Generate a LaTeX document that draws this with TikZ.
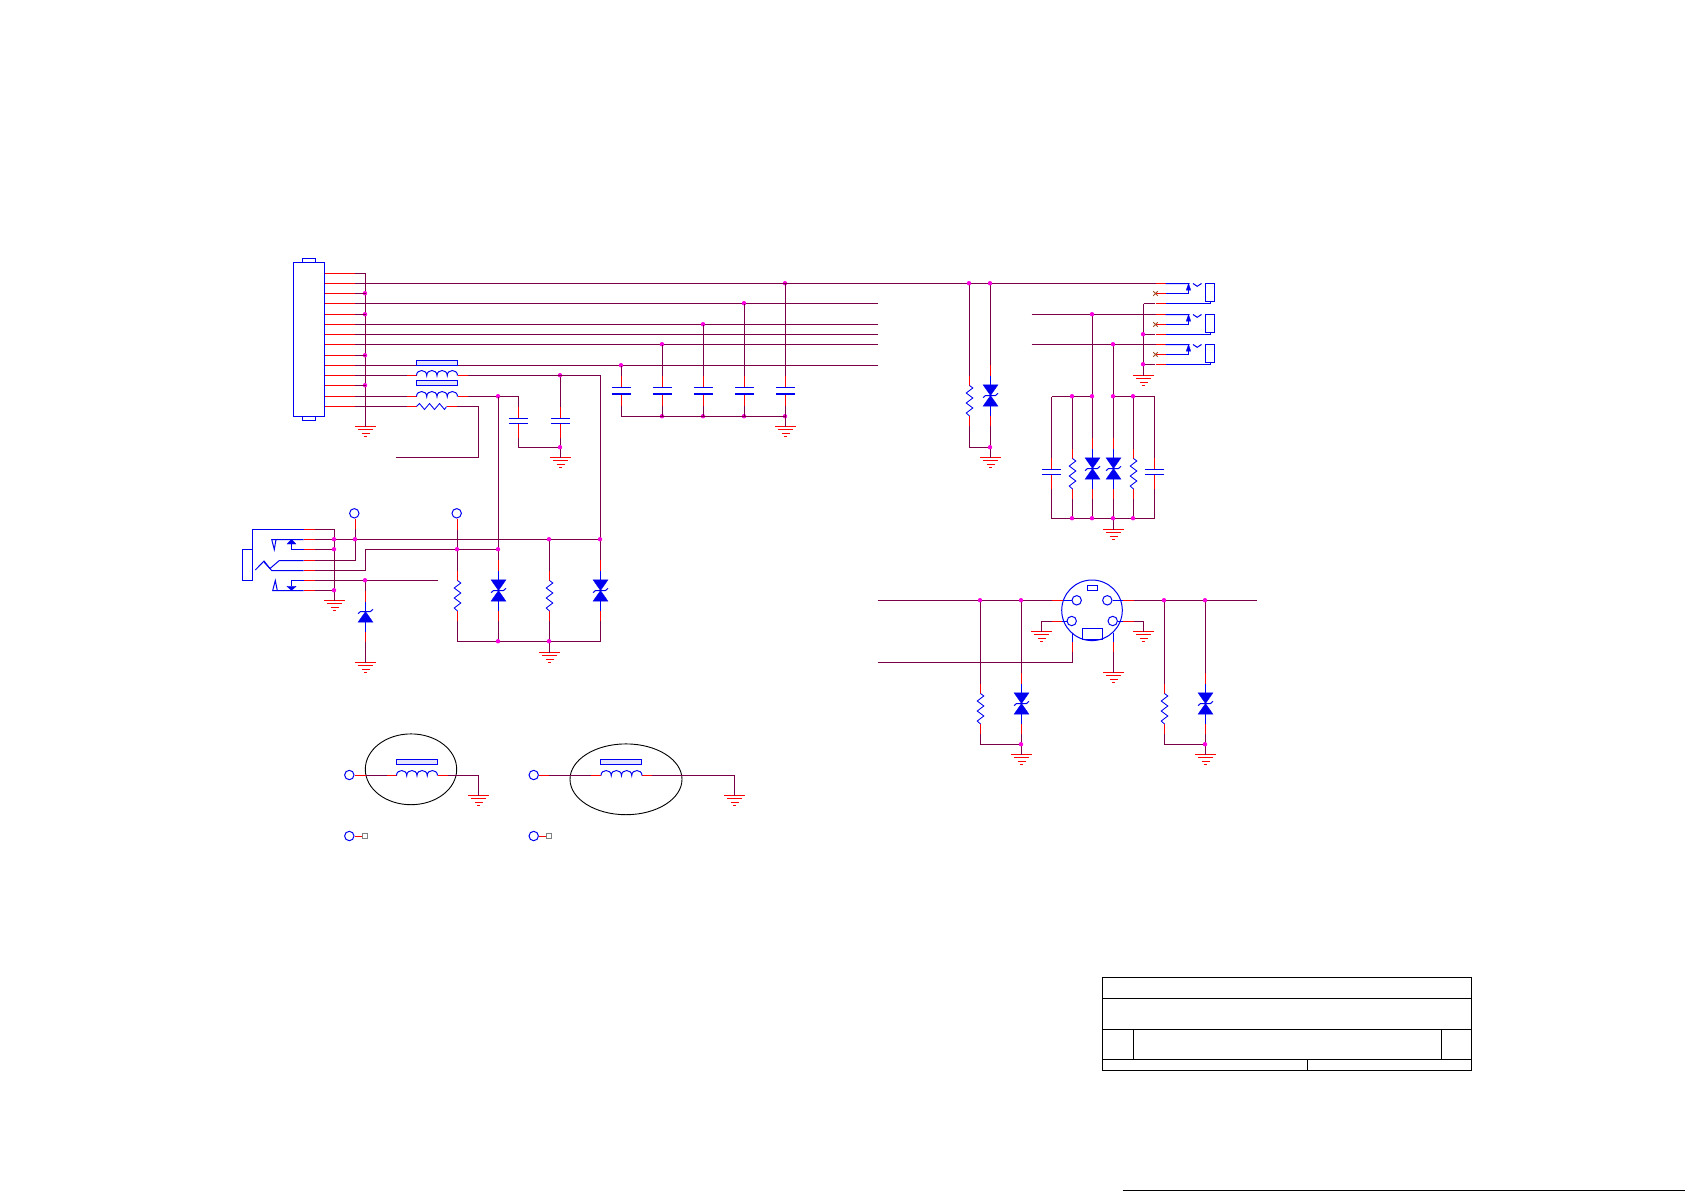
\documentclass[tikz,border=0pt]{standalone}
\definecolor{wirec}{HTML}{7B0045}
\definecolor{pinc}{HTML}{FF0000}
\definecolor{symc}{HTML}{0000F0}
\definecolor{dotc}{HTML}{FF00E0}
\definecolor{xc}{HTML}{A0522D}
\tikzset{
  wire/.style={draw=wirec,line width=1pt},
  lead/.style={draw=pinc,line width=1pt},
  sym/.style={draw=symc,line width=1pt},
  symf/.style={fill=symc,draw=symc,line width=0.3pt},
  frame/.style={draw=black,line width=1pt},
  dot/.style={circle,fill=dotc,inner sep=0pt,minimum size=4.4pt,xshift=-0.5pt,yshift=0.3pt},
  tp/.style={circle,draw=symc,line width=1pt,inner sep=0pt,minimum size=9.4pt},
  gnd/.pic={
    \draw[lead] (-10.5,0) -- (10.5,0) (-7.5,3) -- (7.5,3) (-4,7) -- (4,7) (-1.7,10) -- (1.7,10);
  },
  zenerD/.pic={
    \coordinate (t) at (0,-30.5); \coordinate (b) at (0,30.5);
    \draw[lead] (0,-30.5) -- (0,-20) (0,20) -- (0,30.5);
    \draw[sym] (0,-20) -- (0,-10.7) (0,10.7) -- (0,20);
    \fill[symf] (-7.5,-10.7) -- (7.5,-10.7) -- (0,0) -- cycle;
    \fill[symf] (-7.5,10.7) -- (7.5,10.7) -- (0,0) -- cycle;
    \draw[sym] (-7.5,2.2) -- (-5,0) -- (5,0) -- (7.5,-2.2);
  },
  zenerS/.pic={
    \coordinate (t) at (0,-20.7); \coordinate (b) at (0,30.4);
    \draw[lead] (0,-20.7) -- (0,-10) (0,20.4) -- (0,30.4);
    \draw[sym] (0,-10) -- (0,20.4);
    \fill[symf] (-7.5,10.7) -- (7.5,10.7) -- (0,0) -- cycle;
    \draw[sym] (-7.5,2.2) -- (-5,0) -- (5,0) -- (7.5,-2.2);
  },
  resV/.pic={
    \coordinate (t) at (0,-10); \coordinate (b) at (0,40.5);
    \draw[lead] (0,-10) -- (0,0) (0,30.5) -- (0,40.5);
    \draw[sym,line width=0.85pt] (0,0) -- (3.3,2.5) -- (-3.3,7.5) -- (3.3,12.5) -- (-3.3,17.5) -- (3.3,22.5) -- (-3.3,27.5) -- (0,30.5);
  },
  capThick/.pic={
    \coordinate (t) at (0,-12); \coordinate (b) at (0,18);
    \draw[lead] (0,-12) -- (0,0) (0,6) -- (0,18);
    \draw[sym] (-9.6,0) -- (9.6,0);
    \draw[sym,line width=2pt] (-9.6,6) -- (9.6,6);
  },
  capThin/.pic={
    \coordinate (t) at (0,-11.5); \coordinate (b) at (0,19);
    \draw[lead] (0,-11.5) -- (0,0) (0,5) -- (0,19);
    \draw[sym] (-9.6,0) -- (9.6,0) (-9.6,5) -- (9.6,5);
  },
  coil/.pic={
    \coordinate (l) at (-10,0); \coordinate (r) at (51,0);
    \draw[lead] (-10,0) -- (0,0) (41,0) -- (51,0);
    \draw[sym] (0,0) .. controls (0,-6.6) and (10.25,-6.6) .. (10.25,0)
      .. controls (10.25,-6.6) and (20.5,-6.6) .. (20.5,0)
      .. controls (20.5,-6.6) and (30.75,-6.6) .. (30.75,0)
      .. controls (30.75,-6.6) and (41,-6.6) .. (41,0);
  },
  rod/.pic={
    \draw[sym,fill=symc!10] (0,0) rectangle (41,5);
  },
  sw/.pic={
    \coordinate (in) at (-10,0); \coordinate (gnd) at (-11,20);
    \draw[lead] (-10,0) -- (0,0) (-10,10) -- (0,10) (-10,20) -- (0,20);
    \draw[sym] (0,0) -- (24,0) (27.5,0) -- (31.7,2.8) -- (36,0);
    \draw[sym] (0,10) -- (23,10) -- (23,6.7);
    \fill[symf] (20.7,6.7) -- (25.3,6.7) -- (23,0) -- cycle;
    \draw[sym] (0,20) -- (44.5,20) -- (44.5,18);
    \draw[sym] (40,0) rectangle (49,18);
    \draw[draw=xc,line width=1pt] (-12.3,7.7) -- (-7.7,12.3) (-12.3,12.3) -- (-7.7,7.7);
  },
}
\begin{document}
\begin{tikzpicture}[x=1pt,y=-1pt]
\useasboundingbox (0,0) rectangle (1685,1191);
% ---------------- main connector
\draw[sym] (293.5,262.5) rectangle (324.5,416.5);
\draw[sym] (302.5,262.5) -- (302.5,258.5) -- (315.5,258.5) -- (315.5,262.5);
\draw[sym] (302.5,416.5) -- (302.5,420.5) -- (315.5,420.5) -- (315.5,416.5);
\foreach \n/\y in {1/273.5,2/283.5,3/293.5,4/303.5,5/314.5,6/324.5,7/334.5,8/344.5,9/355.5,10/365.5,11/375.5,12/385.5,13/396.5,14/406.5}{
  \draw[lead] (324.5,\y) -- (355,\y);
  \coordinate (p\n) at (355,\y);
}
% ground bus of the connector
\coordinate (gA) at (365.5,426.5);
\pic at (gA) {gnd};
\draw[wire] (p1) -- (p1 -| gA) -- (gA);
\foreach \n in {3,5,9,12}{
  \node[dot] (jg\n) at (p\n -| gA) {};
  \draw[wire] (p\n) -- (p\n -| gA);
}
% signal lines to caps
\coordinate (e4) at (877.5,303.5);
\coordinate (e6) at (877.5,324.5);
\coordinate (e7) at (877.5,334.5);
\coordinate (e8) at (877.5,344.5);
\coordinate (e10) at (877.5,365.5);
\draw[wire] (p4) -- (e4) (p6) -- (e6) (p7) -- (e7) (p8) -- (e8) (p10) -- (e10);
% cap bank
\foreach \n/\x/\lin in {1/621.5/p10,2/662.5/p8,3/703.5/p6,4/744.5/p4,5/785.5/p2}{
  \pic (c\n) at (\x,387.5) {capThick};
  \node[dot] (jc\n) at (\x,0 |- \lin) {};
  \draw[wire] (\x,0 |- \lin) -- (c\n t);
}
\coordinate (cbase) at (785.5,416.5);
\node[dot] (jb2) at (662.5,416.5) {};
\node[dot] (jb3) at (703.5,416.5) {};
\node[dot] (jb4) at (744.5,416.5) {};
\node[dot] (jb5) at (cbase) {};
\coordinate (cbl) at (621.5,416.5);
\coordinate (gB) at (785.5,426.5);
\pic at (gB) {gnd};
\draw[wire] (c1b) -- (cbl) -- (cbase) -- (gB) (c2b) -- (662.5,416.5) (c3b) -- (703.5,416.5) (c4b) -- (744.5,416.5) (c5b) -- (cbase);
% filter section
\pic at (416.5,360.5) {rod};
\pic (L1) at (416.5,375.5) {coil};
\pic at (416.5,380.5) {rod};
\pic (L2) at (416.5,396.5) {coil};
\draw[wire] (p11) -- (L1l) (p13) -- (L2l) (p14) -- (406.5,406.5);
\draw[lead] (406.5,406.5) -- (416.5,406.5) (446.5,406.5) -- (456.5,406.5);
\draw[sym,line width=0.85pt] (416.5,406.5) -- (419.5,403.5) -- (424.5,409.5) -- (429.5,403.5) -- (434.5,409.5) -- (439.5,403.5) -- (444.5,409.5) -- (446.5,406.5);
\coordinate (fr) at (456.5,406.5);
\coordinate (frc) at (478.5,406.5);
\coordinate (frd) at (478.5,457.5);
\coordinate (fre) at (395.5,457.5);
\draw[wire] (fr) -- (frc) -- (frd) -- (fre);
% LC caps
\coordinate (bendA) at (600.5,375.5);
\coordinate (bendB) at (518.5,396.5);
\pic (ca) at (518.5,418.5) {capThin};
\pic (cb) at (560.5,418.5) {capThin};
\coordinate (gC) at (560.5,457.5);
\pic at (gC) {gnd};
\coordinate (caf) at (518.5,447.5);
\coordinate (cag) at (560.5,447.5);
\coordinate (jL1p) at (560.5,375.5);
\coordinate (jL2p) at (498.5,396.5);
\draw[wire] (L2r) -- (bendB) -- (cat);
\draw[wire] (cab) -- (caf) -- (cag);
\draw[wire] (jL1p) -- (cbt) (cbb) -- (gC);
\node[dot] (jL1) at (jL1p) {};
\node[dot] (jL2) at (jL2p) {};
\node[dot] (jcg) at (cag) {};
% ---------------- audio jack section
\node[tp] (tp1) at (354.3,513.3) {};
\node[tp] (tp2) at (456.7,513.3) {};
\draw[sym] (303.5,529.5) -- (252.5,529.5) -- (252.5,580.5);
\draw[sym] (242.5,549.5) rectangle (252.5,580.5);
\draw[sym] (303.5,539.5) -- (271.7,539.5) -- (274.3,549.5) -- (276,539.5);
\draw[sym] (303.5,549.5) -- (291.5,549.5) -- (291.5,544);
\fill[symf] (287,544) -- (296,544) -- (291.5,539.3) -- cycle;
\draw[sym] (303.5,560.5) -- (279.3,560.5) -- (270,568.5) -- (264,561) -- (255.3,570);
\draw[sym] (303.5,570.5) -- (271.7,570.5) -- (264,562);
\draw[sym] (303.5,580.5) -- (291.5,580.5) -- (291.5,586.3);
\fill[symf] (287,586.3) -- (296,586.3) -- (291.5,590.7) -- cycle;
\draw[sym] (303.5,590.5) -- (272.7,590.5) -- (275.3,580.5) -- (277.3,590.5);
\foreach \n/\y in {1/529.5,2/539.5,3/549.5,4/560.5,5/570.5,6/580.5,7/590.5}{
  \draw[lead] (303.5,\y) -- (315,\y);
  \coordinate (jp\n) at (315,\y);
}
\coordinate (gD) at (334.5,600.5);
\pic at (gD) {gnd};
\draw[wire] (jp1) -- (jp1 -| gD) -- (gD);
\draw[wire] (jp3) -- (jp3 -| gD) (jp7) -- (jp7 -| gD);
% upper bus
\coordinate (jt3p) at (600.5,539.5);
\coordinate (tp1w) at (355.5,529);
\draw[wire] (jp2) -- (jt3p);
\draw[lead] (tp1.south -| tp1w) -- (tp1w);
\draw[wire] (tp1w) -- (355.5,560.5) -- (jp4);
% second bus
\coordinate (jm2p) at (498.5,549.5);
\coordinate (bendC) at (365.5,549.5);
\coordinate (bendD) at (365.5,570.5);
\draw[wire] (jp5) -- (bendD) -- (bendC) -- (jm2p);
\draw[wire] (jL2p) -- (jm2p);
\draw[wire] (L1r) -- (bendA) -- (jt3p);
% third line + single zener
\coordinate (e9) at (437.5,580.5);
\coordinate (jzp) at (365.5,580.5);
\draw[wire] (jp6) -- (e9);
\pic (zs) at (365.5,611.5) {zenerS};
\coordinate (gE) at (365.5,662.5);
\pic at (gE) {gnd};
\draw[wire] (jzp) -- (zst) (zsb) -- (gE);
% R / zener row
\pic (r1) at (457.5,580.5) {resV};
\pic (z1) at (498.5,590.5) {zenerD};
\pic (r2) at (549.5,580.5) {resV};
\pic (z2) at (600.5,590.5) {zenerD};
\coordinate (tp2w) at (457.5,529.5);
\draw[lead] (tp2.south -| tp2w) -- (tp2w);
\draw[wire] (tp2w) -- (r1t);
\coordinate (jt2p) at (549.5,539.5);
\draw[wire] (jm2p) -- (z1t) (jt2p) -- (r2t) (jt3p) -- (z2t);
\coordinate (blL) at (457.5,641.5);
\coordinate (blR) at (600.5,641.5);
\coordinate (jr1p) at (498.5,641.5);
\coordinate (jr2p) at (549.5,641.5);
\coordinate (gF) at (549.5,652.5);
\pic at (gF) {gnd};
\draw[wire] (r1b) -- (blL) -- (blR) -- (z2b) (z1b) -- (jr1p) (r2b) -- (jr2p) -- (gF);
\node[dot] (jj2) at (jp2 -| gD) {};
\node[dot] (jj3) at (jp3 -| gD) {};
\node[dot] (jj7) at (jp7 -| gD) {};
\node[dot] (jt1) at (355.5,539.5) {};
\node[dot] (jt2) at (jt2p) {};
\node[dot] (jt3) at (jt3p) {};
\node[dot] (jm1) at (457.5,549.5) {};
\node[dot] (jm2) at (jm2p) {};
\node[dot] (jz) at (jzp) {};
\node[dot] (jr1) at (jr1p) {};
\node[dot] (jr2) at (jr2p) {};
% ---------------- R/zener on power line
\coordinate (ju1p) at (969.5,283.5);
\coordinate (ju2p) at (990.5,283.5);
\pic (r3) at (969.5,385.5) {resV};
\pic (z3) at (990.5,395.5) {zenerD};
\coordinate (bl3) at (969.5,447.5);
\coordinate (ju3p) at (990.5,447.5);
\coordinate (gG) at (990.5,457.5);
\pic at (gG) {gnd};
% ---------------- three switches
\pic (s1) at (1165.5,283.5) {sw};
\pic (s2) at (1165.5,314.5) {sw};
\pic (s3) at (1165.5,344.5) {sw};
\draw[wire] (p2) -- (s1in);
\draw[wire] (ju1p) -- (r3t) (ju2p) -- (z3t) (r3b) -- (bl3) -- (ju3p) (z3b) -- (gG);
\node[dot] (ju1) at (ju1p) {};
\node[dot] (ju2) at (ju2p) {};
\node[dot] (ju3) at (ju3p) {};
\coordinate (l2) at (1031.5,314.5);
\coordinate (l3) at (1031.5,344.5);
\draw[wire] (l2) -- (s2in) (l3) -- (s3in);
\coordinate (gH) at (1143.5,375.5);
\pic at (gH) {gnd};
\draw[wire] (s1gnd -| gH) -- (gH);
\draw[wire] (s1gnd -| gH) -- (s1gnd) (s2gnd -| gH) -- (s2gnd) (s3gnd -| gH) -- (s3gnd);
\node[dot] (js2) at (s2gnd -| gH) {};
\node[dot] (js3) at (s3gnd -| gH) {};
% ---------------- filter bank under switches
\coordinate (tl) at (1051.5,396.5);
\coordinate (tr) at (1154.5,396.5);
\coordinate (bl) at (1051.5,518.5);
\coordinate (br) at (1154.5,518.5);
\coordinate (k1) at (1072.5,396.5);
\coordinate (k2) at (1092.5,396.5);
\coordinate (k3) at (1113.5,396.5);
\coordinate (k4) at (1133.5,396.5);
\draw[wire] (tl) -- (k2) (k3) -- (tr);
\draw[wire] (k2 |- l2) -- (k2) (k3 |- l3) -- (k3);
\pic (c6) at (1051.5,469.5) {capThin};
\pic (r4) at (1072.5,458.5) {resV};
\pic (z4) at (1092.5,468.5) {zenerD};
\pic (z5) at (1113.5,468.5) {zenerD};
\pic (r5) at (1133.5,458.5) {resV};
\pic (c7) at (1154.5,469.5) {capThin};
\draw[wire] (tl) -- (c6t) (c6b) -- (bl) (k1) -- (r4t) (r4b) -- (k1 |- bl)
  (k2) -- (z4t) (z4b) -- (k2 |- bl) (k3) -- (z5t) (z5b) -- (k3 |- bl)
  (k4) -- (r5t) (r5b) -- (k4 |- bl) (tr) -- (c7t) (c7b) -- (br);
\draw[wire,line width=1.8pt] (bl) -- (br);
\coordinate (gI) at (1113.5,529.5);
\pic at (gI) {gnd};
\draw[wire] (k3 |- bl) -- (gI);
\node[dot] (jk1) at (k1) {};
\node[dot] (jk2) at (k2) {};
\node[dot] (jk3) at (k3) {};
\node[dot] (jk4) at (k4) {};
\node[dot] (jl2) at (k2 |- l2) {};
\node[dot] (jl3) at (k3 |- l3) {};
\node[dot] (jn1) at (k1 |- bl) {};
\node[dot] (jn2) at (k2 |- bl) {};
\node[dot] (jn3) at (k3 |- bl) {};
\node[dot] (jn4) at (k4 |- bl) {};
% ---------------- mini-DIN connector
\node[circle,draw=symc,line width=1pt,inner sep=0pt,minimum size=60.6pt] (din) at (1092,610.3) {};
\draw[sym] (1087.5,585.5) rectangle (1097.5,590.5);
\draw[sym] (1082.5,628.5) rectangle (1102.5,639.5);
\node[tp] (h1) at (1076.7,600.3) {};
\node[tp] (h2) at (1107.3,600.3) {};
\node[tp] (h3) at (1071.7,621) {};
\node[tp] (h4) at (1112.7,621) {};
\draw[sym] (h1.west |- 0,600.5) -- (1062.5,600.5);
\draw[sym] (h2.east |- 0,600.5) -- (1122.5,600.5);
\draw[sym] (h3.west |- 0,621.5) -- (1061.5,621.5);
\draw[sym] (h4.east |- 0,621.5) -- (1122.5,621.5);
\draw[sym] (1072.5,633.3) -- (1072.5,641.5);
\draw[sym] (1113.5,633.3) -- (1113.5,641.5);
\draw[lead] (1062.5,600.5) -- (1051.5,600.5) (1122.5,600.5) -- (1133.5,600.5);
\draw[lead] (1061.5,621.5) -- (1051.5,621.5) (1122.5,621.5) -- (1133.5,621.5);
\draw[lead] (1072.5,641.5) -- (1072.5,651.5) (1113.5,641.5) -- (1113.5,651.5);
\coordinate (d1) at (877.5,600.5);
\coordinate (d2) at (1256.5,600.5);
\coordinate (d3) at (877.5,662.5);
\coordinate (d4) at (1072.5,662.5);
\coordinate (d1a) at (980.5,600.5);
\coordinate (d2a) at (1021.5,600.5);
\coordinate (d3a) at (1164.5,600.5);
\coordinate (d4a) at (1205.5,600.5);
\draw[wire] (d1) -- (1051.5,600.5) (1133.5,600.5) -- (d2);
\draw[wire] (d3) -- (d4) -- (1072.5,651.5);
\coordinate (gJ) at (1041.5,631.5);
\coordinate (gK) at (1143.5,631.5);
\coordinate (gL) at (1113.5,672.5);
\pic at (gJ) {gnd}; \pic at (gK) {gnd}; \pic at (gL) {gnd};
\draw[wire] (1051.5,621.5) -- (gJ |- 0,621.5) -- (gJ);
\draw[wire] (1133.5,621.5) -- (gK |- 0,621.5) -- (gK);
\draw[wire] (1113.5,651.5) -- (gL);
\pic (r6) at (980.5,693.5) {resV};
\pic (z6) at (1021.5,703.5) {zenerD};
\pic (r7) at (1164.5,693.5) {resV};
\pic (z7) at (1205.5,703.5) {zenerD};
\coordinate (bl6) at (980.5,744.5);
\coordinate (bl7) at (1164.5,744.5);
\coordinate (f6) at (1021.5,744.5);
\coordinate (f7) at (1205.5,744.5);
\coordinate (gM) at (1021.5,754.5);
\coordinate (gN) at (1205.5,754.5);
\pic at (gM) {gnd}; \pic at (gN) {gnd};
\draw[wire] (d1a) -- (r6t) (r6b) -- (bl6) -- (f6) (d2a) -- (z6t) (z6b) -- (gM);
\draw[wire] (d3a) -- (r7t) (r7b) -- (bl7) -- (f7) (d4a) -- (z7t) (z7b) -- (gN);
\node[dot] (jd1) at (d1a) {};
\node[dot] (jd2) at (d2a) {};
\node[dot] (jd3) at (d3a) {};
\node[dot] (jd4) at (d4a) {};
\node[dot] (jf6) at (f6) {};
\node[dot] (jf7) at (f7) {};
% ---------------- chassis inductors
\foreach \tg/\cx/\ex/\ey/\rx in {a/349.3/411/769.3/45.7,b/533.7/626/779.3/56}{
  \node[tp] (t\tg) at (\cx,775) {};
  \node[tp] (u\tg) at (\cx,836) {};
  \draw[black,line width=0.9pt] (\ex,\ey) ellipse [x radius=\rx,y radius=35.4];
}
\pic at (396.5,759.5) {rod};
\pic at (600.5,759.5) {rod};
\pic (La) at (396.5,775.5) {coil};
\pic (Lb) at (601,775.5) {coil};
\coordinate (ga) at (478.5,795.5);
\coordinate (gb) at (734.5,795.5);
\pic at (ga) {gnd}; \pic at (gb) {gnd};
\draw[lead] (ta.east |- 0,775.5) -- (365.5,775.5) (tb.east |- 0,775.5) -- (548.5,775.5);
\draw[wire] (365.5,775.5) -- (Lal) (548.5,775.5) -- (Lbl);
\draw[wire] (Lar) -- (ga |- Lar) -- (ga);
\draw[wire] (Lbr) -- (gb |- Lbr) -- (gb);
\node[draw=gray,line width=0.9pt,inner sep=0pt,minimum size=5.3pt] (sa) at (365,836) {};
\node[draw=gray,line width=0.9pt,inner sep=0pt,minimum size=5.3pt] (sb) at (549,836) {};
\draw[lead] (ua.east) -- (sa.west) (ub.east) -- (sb.west);
% ---------------- title block
\draw[frame] (1102.5,977.5) rectangle (1471.5,1070.5);
\draw[black,line width=1.6pt] (1102.5,977.5) -- (1471.5,977.5);
\draw[frame] (1102.5,998.5) -- (1471.5,998.5) (1102.5,1029.5) -- (1471.5,1029.5) (1102.5,1059.5) -- (1471.5,1059.5);
\draw[frame] (1133.5,1029.5) -- (1133.5,1059.5) (1441.5,1029.5) -- (1441.5,1059.5) (1307.5,1059.5) -- (1307.5,1070.5);
% bottom edge rule
\draw[black,line width=1pt] (1122.5,1190.5) -- (1685,1190.5);
\end{tikzpicture}
\end{document}
